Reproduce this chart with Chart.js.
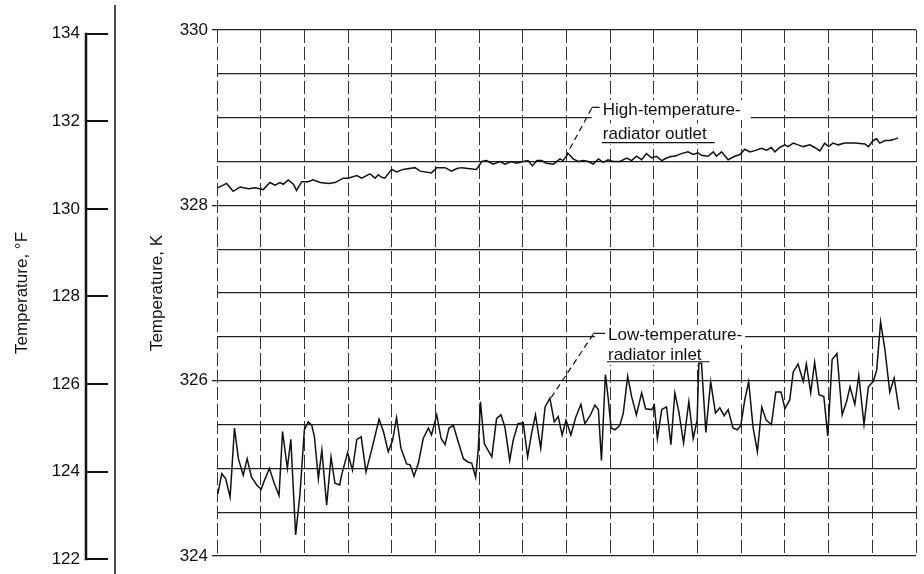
<!DOCTYPE html>
<html><head><meta charset="utf-8">
<script src="https://cdn.jsdelivr.net/npm/chart.js@4.4.1/dist/chart.umd.min.js"></script>
<style>html,body{margin:0;padding:0;background:#fff;}#wrap{width:924px;height:574px;}</style>
</head><body><div id="wrap"><canvas id="c" width="924" height="574"></canvas></div>
<script>
// ---- data (x in grid divisions, temperatures in K) ----
const highX = [0.02,0.22,0.37,0.53,0.72,0.87,0.98,1.06,1.21,1.33,1.44,1.52,1.63,1.75,1.82,1.94,2.09,2.20,2.36,2.55,2.70,2.89,3.00,3.20,3.31,3.50,3.62,3.69,3.77,3.84,4.00,4.11,4.26,4.53,4.65,4.91,5.03,5.22,5.37,5.49,5.60,5.75,5.94,6.06,6.17,6.32,6.48,6.59,6.74,6.86,7.01,7.12,7.22,7.32,7.43,7.54,7.70,7.85,7.92,8.04,8.15,8.27,8.38,8.50,8.61,8.73,8.84,8.95,9.07,9.22,9.38,9.49,9.60,9.72,9.83,9.95,10.06,10.18,10.29,10.41,10.48,10.63,10.78,10.90,11.01,11.09,11.24,11.36,11.43,11.55,11.70,11.85,11.97,12.08,12.20,12.35,12.46,12.58,12.69,12.77,12.88,13.00,13.07,13.19,13.30,13.42,13.57,13.68,13.80,13.91,14.00,14.10,14.22,14.37,14.60,14.83,14.91,15.02,15.10,15.17,15.29,15.40,15.48,15.59];
const highK = [328.20,328.25,328.16,328.21,328.19,328.20,328.19,328.18,328.26,328.23,328.26,328.24,328.29,328.24,328.17,328.27,328.27,328.29,328.26,328.25,328.26,328.31,328.31,328.34,328.31,328.36,328.31,328.35,328.32,328.31,328.41,328.38,328.41,328.43,328.39,328.37,328.43,328.43,328.39,328.42,328.43,328.42,328.41,328.50,328.51,328.47,328.50,328.47,328.50,328.48,328.50,328.51,328.45,328.51,328.51,328.48,328.47,328.53,328.51,328.59,328.53,328.50,328.51,328.50,328.47,328.53,328.49,328.52,328.50,328.50,328.54,328.51,328.56,328.52,328.59,328.54,328.56,328.51,328.54,328.56,328.56,328.59,328.61,328.58,328.60,328.57,328.56,328.61,328.56,328.61,328.52,328.56,328.58,328.64,328.61,328.63,328.65,328.63,328.66,328.61,328.66,328.69,328.67,328.71,328.69,328.67,328.69,328.66,328.62,328.71,328.67,328.71,328.69,328.71,328.71,328.70,328.67,328.74,328.76,328.71,328.74,328.74,328.75,328.77];
const lowX = [0.02,0.11,0.20,0.30,0.40,0.49,0.60,0.69,0.79,0.91,1.01,1.10,1.20,1.31,1.42,1.50,1.61,1.69,1.80,1.90,2.00,2.09,2.17,2.23,2.32,2.40,2.51,2.61,2.70,2.81,2.85,2.99,3.10,3.20,3.30,3.41,3.54,3.71,3.81,3.92,4.02,4.11,4.21,4.34,4.42,4.51,4.61,4.72,4.84,4.91,5.03,5.13,5.22,5.31,5.41,5.51,5.64,5.75,5.83,5.92,5.98,6.03,6.12,6.29,6.40,6.50,6.59,6.70,6.78,6.89,7.01,7.11,7.20,7.29,7.41,7.51,7.62,7.72,7.81,7.90,7.99,8.10,8.21,8.33,8.42,8.54,8.65,8.73,8.80,8.89,8.95,9.02,9.11,9.22,9.30,9.40,9.49,9.60,9.72,9.81,9.95,10.01,10.08,10.18,10.29,10.39,10.48,10.57,10.68,10.80,10.90,10.99,11.03,11.09,11.19,11.30,11.41,11.51,11.61,11.70,11.81,11.91,11.99,12.08,12.17,12.27,12.37,12.47,12.57,12.69,12.79,12.91,13.00,13.11,13.19,13.30,13.42,13.49,13.59,13.68,13.78,13.89,13.98,14.08,14.19,14.31,14.41,14.49,14.60,14.69,14.81,14.91,15.02,15.10,15.19,15.29,15.40,15.50,15.61];
const lowK = [324.71,324.94,324.88,324.67,325.46,325.11,324.92,325.11,324.90,324.81,324.76,324.88,325.00,324.83,324.69,325.42,325.00,325.33,324.24,324.71,325.44,325.53,325.49,325.36,324.88,325.21,324.58,325.13,324.83,324.81,324.92,325.18,324.98,325.33,325.36,324.96,325.21,325.56,325.42,325.19,325.32,325.58,325.23,325.05,325.04,324.91,325.06,325.34,325.46,325.38,325.61,325.34,325.27,325.46,325.49,325.32,325.11,325.07,325.06,324.90,325.21,325.76,325.28,325.13,325.57,325.61,325.47,325.09,325.32,325.51,325.52,325.13,325.40,325.61,325.23,325.70,325.80,325.53,325.59,325.38,325.55,325.38,325.58,325.73,325.51,325.60,325.72,325.67,325.09,326.07,325.82,325.46,325.44,325.49,325.63,326.05,325.82,325.61,325.86,325.68,325.67,325.72,325.34,325.67,325.70,325.27,325.86,325.65,325.29,325.76,325.34,325.55,326.20,326.20,325.41,325.99,325.63,325.69,325.60,325.67,325.46,325.44,325.49,325.78,325.99,325.47,325.19,325.70,325.55,325.50,325.87,325.87,325.68,325.78,326.10,326.19,325.99,326.19,325.86,326.21,325.84,325.82,325.37,326.24,326.31,325.61,325.76,325.93,325.73,326.06,325.50,325.93,325.99,326.12,326.67,326.35,325.87,326.03,325.67];
const kLabels = [324, 326, 328, 330];
const fLabels = [122, 124, 126, 128, 130, 132, 134];
const seriesNames = ['High-temperature-radiator outlet', 'Low-temperature-radiator inlet'];
const annotationText = [['High-temperature-', 'radiator outlet'], ['Low-temperature-', 'radiator inlet']];

// ---- styling / layout ----
const TICK_FONT = {family: '"Liberation Sans", Arial, sans-serif', size: 17};
const TITLE_FONT = {family: '"Liberation Sans", Arial, sans-serif', size: 17};
const ANNOT_FONT = '17px "Liberation Sans", Arial, sans-serif';
const INK = '#111';
// the Fahrenheit scale is drawn slightly offset from the Kelvin frame in the original
const F_RANGE = {min: 122.075, max: 134.084};

// annotation anchors in data units (x division, K)
const annotPos = [
  {x: 8.83, base: [329.03, 328.753], under: 328.715, leader: [8.575, 329.118, 8.0, 328.574], pad1: [11, 10]},
  {x: 8.95, base: [326.464, 326.236], under: 326.216, leader: [8.61, 326.54, 7.60, 325.77], pad1: [13, 3]}
];

const toPts = (xs, ys) => xs.map((v, i) => ({x: v, y: ys[i]}));

const decor = {
  id: 'decor',
  beforeDatasetsDraw(chart) {
    const {ctx, scales: {x, y}} = chart;
    ctx.save();
    ctx.font = ANNOT_FONT;
    ctx.fillStyle = '#fff';
    annotPos.forEach((a, i) => {
      const tx = x.getPixelForValue(a.x);
      const w1 = ctx.measureText(annotationText[i][0]).width;
      const w2 = ctx.measureText(annotationText[i][1]).width;
      const b1 = y.getPixelForValue(a.base[0]);
      const b2 = y.getPixelForValue(a.base[1]);
      ctx.fillRect(tx - a.pad1[0], b1 - 15, w1 + a.pad1[0] + a.pad1[1], 20);
      ctx.fillRect(tx - 3, b2 - 16, w2 + 14, 21);
    });
    ctx.restore();
  },
  afterDatasetsDraw(chart) {
    const {ctx, scales: {x, y}} = chart;
    ctx.save();
    ctx.font = ANNOT_FONT;
    ctx.fillStyle = INK;
    ctx.strokeStyle = INK;
    ctx.textBaseline = 'alphabetic';
    annotPos.forEach((a, i) => {
      const tx = x.getPixelForValue(a.x);
      const b1 = y.getPixelForValue(a.base[0]);
      const b2 = y.getPixelForValue(a.base[1]);
      ctx.fillText(annotationText[i][0], tx, b1);
      ctx.fillText(annotationText[i][1], tx, b2);
      const w2 = ctx.measureText(annotationText[i][1]).width;
      const uy = y.getPixelForValue(a.under);
      ctx.lineWidth = 1.2;
      ctx.setLineDash([]);
      ctx.beginPath(); ctx.moveTo(tx - 1, uy); ctx.lineTo(tx + w2 + 8, uy); ctx.stroke();
      const lx1 = x.getPixelForValue(a.leader[0]), ly1 = y.getPixelForValue(a.leader[1]);
      const lx2 = x.getPixelForValue(a.leader[2]), ly2 = y.getPixelForValue(a.leader[3]);
      ctx.beginPath(); ctx.moveTo(lx1, ly1); ctx.lineTo(tx - 3, ly1); ctx.stroke();
      ctx.setLineDash([6, 4]);
      ctx.beginPath(); ctx.moveTo(lx1, ly1 + 1); ctx.lineTo(lx2, ly2); ctx.stroke();
    });
    ctx.restore();
  },
  afterDraw(chart) {
    const {ctx, scales: {yF}} = chart;
    ctx.save();
    ctx.strokeStyle = INK;
    // Fahrenheit axis spine
    const ax = yF.right - yF.options.grid.tickLength;
    ctx.lineWidth = 2.5;
    ctx.beginPath();
    ctx.moveTo(ax, yF.getPixelForValue(fLabels[fLabels.length - 1]) - 1);
    ctx.lineTo(ax, yF.getPixelForValue(fLabels[0]) + 1);
    ctx.stroke();
    // vertical separator between the two scales
    ctx.lineWidth = 1.5;
    ctx.beginPath(); ctx.moveTo(115, 5); ctx.lineTo(115, 574); ctx.stroke();
    ctx.restore();
  }
};

new Chart(document.getElementById('c'), {
  type: 'line',
  data: {
    datasets: [
      {label: seriesNames[0], data: toPts(highX, highK), borderColor: INK, borderWidth: 1.5, pointRadius: 0, tension: 0, yAxisID: 'y'},
      {label: seriesNames[1], data: toPts(lowX, lowK), borderColor: INK, borderWidth: 1.5, pointRadius: 0, tension: 0, yAxisID: 'y'}
    ]
  },
  options: {
    responsive: false,
    animation: false,
    events: [],
    layout: {padding: {left: 0, right: 8, top: 30, bottom: 18}},
    plugins: {legend: {display: false}, tooltip: {enabled: false}},
    scales: {
      x: {
        type: 'linear', min: 0, max: 16,
        ticks: {display: false, stepSize: 1},
        grid: {color: '#333', lineWidth: 1, drawTicks: false},
        border: {display: false, dash: [13, 4]},
        afterFit: s => { s.height = 0; }
      },
      yF: {
        type: 'linear', position: 'left', weight: 1, min: F_RANGE.min, max: F_RANGE.max,
        ticks: {padding: 6, color: INK, font: TICK_FONT},
        afterBuildTicks: s => { s.ticks = fLabels.map(v => ({value: v})); },
        grid: {drawOnChartArea: false, tickLength: 22, lineWidth: 2, color: INK},
        border: {display: false},
        title: {display: true, text: 'Temperature, °F', color: INK, font: TITLE_FONT, padding: {top: 12, bottom: 0}},
        afterFit: s => { s.width = 108; }
      },
      y: {
        type: 'linear', position: 'left', weight: 0, min: 324, max: 330,
        ticks: {stepSize: 0.5, padding: 4, color: INK, font: TICK_FONT,
                callback: v => kLabels.includes(v) ? String(v) : ''},
        grid: {color: '#222', lineWidth: 1.3, tickLength: 5,
               tickColor: c => (c.tick && kLabels.includes(c.tick.value)) ? '#222' : 'rgba(0,0,0,0)'},
        border: {display: false},
        title: {display: true, text: 'Temperature, K', color: INK, font: TITLE_FONT, padding: {top: 39, bottom: 0}},
        afterFit: s => { s.width = 109; }
      }
    }
  },
  plugins: [decor]
});
</script></body></html>
